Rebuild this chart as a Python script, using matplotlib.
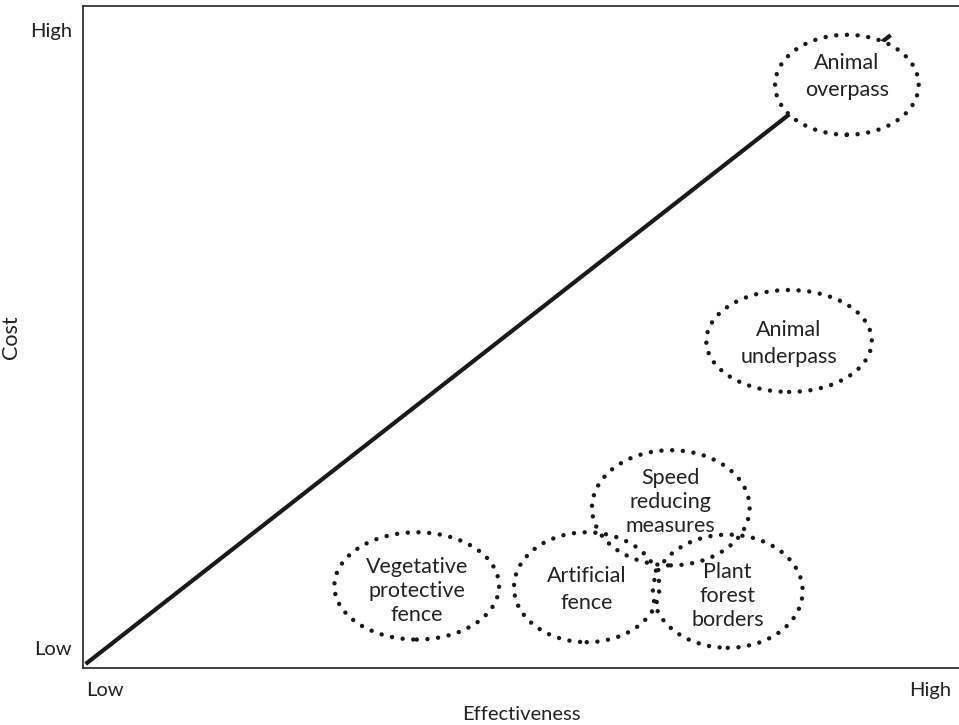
import matplotlib.pyplot as plt
from matplotlib.patches import Ellipse

# measures: label, centre (effectiveness, cost), ellipse width/height
labels = ["Animal\noverpass", "Animal\nunderpass", "Speed\nreducing\nmeasures",
          "Vegetative\nprotective\nfence", "Artificial\nfence", "Plant\nforest\nborders"]
eff = [0.872, 0.806, 0.671, 0.381, 0.575, 0.736]
cost = [0.881, 0.494, 0.242, 0.124, 0.122, 0.116]
widths = [0.164, 0.189, 0.180, 0.188, 0.166, 0.171]
heights = [0.151, 0.154, 0.174, 0.162, 0.166, 0.171]

# trend line
line_x = [0.003, 0.922]
line_y = [0.006, 0.956]

plt.rcParams['font.family'] = ['Lato', 'DejaVu Sans']

fig = plt.figure(figsize=(9.59, 7.25), dpi=100)
ax = fig.add_axes([83 / 959, 57 / 725, 876 / 959, 662 / 725])
ax.set_xlim(0, 1)
ax.set_ylim(0, 1)

ax.plot(line_x, line_y, color="#1a1a1a", lw=3, solid_capstyle="butt", zorder=1)

# small vertical nudges of the text inside each ellipse
text_dy = [0.012, -0.004, 0.009, -0.007, -0.004, -0.007]

for lab, x, y, w, h, dy in zip(labels, eff, cost, widths, heights, text_dy):
    # white fill hides the line, dotted outline drawn on top
    ax.add_patch(Ellipse((x, y), w, h, facecolor="white", edgecolor="none", zorder=2))
    e = Ellipse((x, y), w, h, fill=False, edgecolor="#1a1a1a", lw=3.2,
                linestyle=(0, (0.01, 2.4)), zorder=3)
    e.set_capstyle("round")
    ax.add_patch(e)
    nl = lab.count("\n") + 1
    ax.text(x, y + dy, lab, ha="center", va="center", fontsize=15.5,
            linespacing=1.45 if nl == 2 else 1.25, color="#222222", zorder=4)

ax.set_xticks([0.025, 0.967])
ax.set_xticklabels(["Low", "High"])
ax.set_yticks([0.03, 0.964])
ax.set_yticklabels(["Low", "High"])
ax.tick_params(length=0, labelsize=14.5, colors="#222222")
ax.tick_params(axis="x", pad=10)
ax.tick_params(axis="y", pad=8)
ax.set_xlabel("Effectiveness", fontsize=14.5, color="#222222", labelpad=5)
ax.set_ylabel("Cost", fontsize=15.5, color="#222222", labelpad=6)

for s in ["left", "top", "bottom"]:
    ax.spines[s].set_linewidth(1.3)
    ax.spines[s].set_color("#333333")
ax.spines["right"].set_visible(False)

fig.savefig("out.png", dpi=100)
